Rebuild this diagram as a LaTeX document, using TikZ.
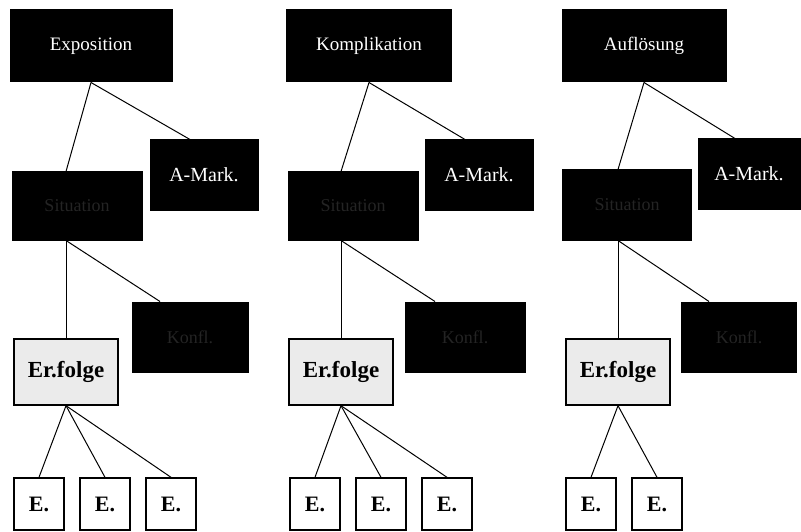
\documentclass[tikz,border=0pt]{standalone}
\usepackage{fontspec}
\setmainfont{Liberation Serif}
\begin{document}
\begin{tikzpicture}[x=1pt,y=-1pt,line width=1pt,
    head/.style={fill=black,draw=black,text=white,inner sep=0pt,
      minimum height=72pt,font=\fontsize{19}{22}\selectfont},
    amark/.style={fill=black,draw=black,text=white,inner sep=0pt,
      minimum height=70pt,font=\fontsize{20}{23}\selectfont},
    dim/.style={fill=black,draw=black,text=black!86,inner sep=0pt,
      font=\fontsize{18}{21}\selectfont},
    folge/.style={fill=black!8,draw=black,line width=1.4pt,inner sep=0pt,
      minimum width=104pt,minimum height=66pt,
      font=\bfseries\fontsize{23}{26}\selectfont},
    ev/.style={draw=black,line width=1.4pt,inner sep=0pt,
      minimum width=50pt,minimum height=52pt,
      font=\bfseries\fontsize{22}{25}\selectfont}]
\useasboundingbox (0,0) rectangle (801,532);

% Exposition
\node[head,minimum width=162pt] (top1) at (91,46) {Exposition};
\node[amark,minimum width=108pt] (am1) at (204,175) {A-Mark.};
\node[dim,minimum width=130pt,minimum height=68pt] (s1) at (77,206) {Situation};
\node[dim,minimum width=116pt,minimum height=70pt] (k1) at (190,337) {Konfl.};
\node[folge] (f1) at (66,372) {Er.folge};
\node[ev] (e11) at (39,504) {E.};
\node[ev] (e12) at (105,504) {E.};
\node[ev] (e13) at (171,504) {E.};

% Komplikation
\node[head,minimum width=165pt] (top2) at (369,46) {Komplikation};
\node[amark,minimum width=108pt] (am2) at (479,175) {A-Mark.};
\node[dim,minimum width=130pt,minimum height=68pt] (s2) at (353,206) {Situation};
\node[dim,minimum width=120pt,minimum height=70pt] (k2) at (465,337) {Konfl.};
\node[folge] (f2) at (341,372) {Er.folge};
\node[ev] (e21) at (315,504) {E.};
\node[ev] (e22) at (381,504) {E.};
\node[ev] (e23) at (447,504) {E.};

% Aufloesung
\node[head,minimum width=164pt] (top3) at (644,46) {Auflösung};
\node[amark,minimum width=102pt] (am3) at (749,174) {A-Mark.};
\node[dim,minimum width=129pt,minimum height=70pt] (s3) at (627,205) {Situation};
\node[dim,minimum width=115pt,minimum height=70pt] (k3) at (739,337) {Konfl.};
\node[folge] (f3) at (618,372) {Er.folge};
\node[ev] (e31) at (591,504) {E.};
\node[ev] (e32) at (657,504) {E.};

\path
  (top1.south) edge (s1.north -| f1.north)
  (top1.south) edge ([xshift=-14pt]am1.north)
  (s1.south -| f1.north) edge (f1.north)
  (s1.south -| f1.north) edge ([xshift=-30pt]k1.north)
  (f1.south) edge (e11.north)
  (f1.south) edge (e12.north)
  (f1.south) edge (e13.north);

\path
  (top2.south) edge (s2.north -| f2.north)
  (top2.south) edge ([xshift=-14pt]am2.north)
  (s2.south -| f2.north) edge (f2.north)
  (s2.south -| f2.north) edge ([xshift=-30pt]k2.north)
  (f2.south) edge (e21.north)
  (f2.south) edge (e22.north)
  (f2.south) edge (e23.north);

\path
  (top3.south) edge (s3.north -| f3.north)
  (top3.south) edge ([xshift=-14pt]am3.north)
  (s3.south -| f3.north) edge (f3.north)
  (s3.south -| f3.north) edge ([xshift=-30pt]k3.north)
  (f3.south) edge (e31.north)
  (f3.south) edge (e32.north);
\end{tikzpicture}
\end{document}
